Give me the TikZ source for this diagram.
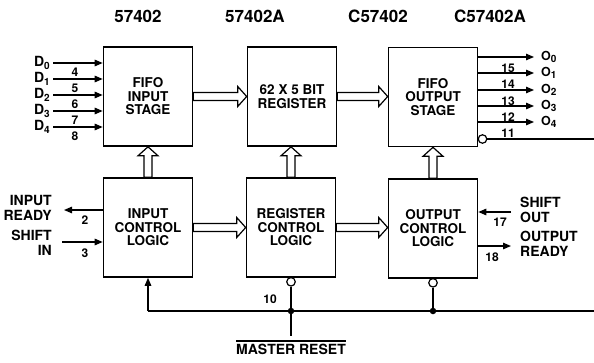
\documentclass[tikz,border=0pt]{standalone}
\usepackage{fontspec}
\setmainfont{TeX Gyre Heros}
\usetikzlibrary{arrows.meta,calc}
\newcommand\pinsub[1]{\raisebox{-0.4ex}{\fontsize{10}{10}\selectfont #1}}
\begin{document}
\begin{tikzpicture}[x=1pt,y=-1pt,
  blk/.style={draw, line width=1.6pt, minimum width=89pt, minimum height=99pt, align=center, inner sep=0pt,
    font=\fontsize{13.5}{13.5}\selectfont\bfseries},
  hollow/.style={fill=white, draw, line width=1.2pt, line join=miter,
    to path={
      ($(\tikztostart)!4pt!90:(\tikztotarget)$) --
      ($($(\tikztotarget)!9pt!(\tikztostart)$)!4pt!-90:(\tikztostart)$) --
      ($($(\tikztotarget)!9pt!(\tikztostart)$)!10pt!-90:(\tikztostart)$) --
      (\tikztotarget) --
      ($($(\tikztotarget)!9pt!(\tikztostart)$)!10pt!90:(\tikztostart)$) --
      ($($(\tikztotarget)!9pt!(\tikztostart)$)!4pt!90:(\tikztostart)$) --
      ($(\tikztostart)!4pt!-90:(\tikztotarget)$) -- cycle}},
  pin/.style={line width=1.3pt, -{Triangle[length=8pt,width=6.5pt]}},
  wire/.style={line width=1.3pt},
  lbl/.style={font=\fontsize{14}{14.5}\selectfont\bfseries, inner sep=0pt},
  num/.style={font=\fontsize{12}{12}\selectfont\bfseries, inner sep=0pt},
  title/.style={font=\fontsize{17}{17}\selectfont\bfseries, inner sep=0pt},
  bubble/.style={circle, draw, fill=white, line width=1.2pt, minimum size=8.5pt, inner sep=0pt},
  dot/.style={circle, fill, minimum size=6.5pt, inner sep=0pt}]
\useasboundingbox (0,0) rectangle (594,362);

% titles
\node[title] (t1) at (138,16) {57402};
\node[title] (t2) at (255,16) {57402A};
\node[title] (t3) at (378,16) {C57402};
\node[title] (t4) at (490,16) {C57402A};

% blocks
\node[blk] (inS) at (148,96.5) {FIFO\\INPUT\\STAGE};
\node[blk] (reg) at (292,96.5) {62 X 5 BIT\\REGISTER};
\node[blk] (outS) at (433,97) {FIFO\\OUTPUT\\STAGE};
\node[blk] (inC) at (148,227.5) {INPUT\\CONTROL\\LOGIC};
\node[blk] (regC) at (291,227.5) {REGISTER\\CONTROL\\LOGIC};
\node[blk] (outC) at (433,228.5) {OUTPUT\\CONTROL\\LOGIC};

% hollow data-path arrows
\draw[hollow] (inS.east) to (reg.west);
\draw[hollow] (reg.east) to (outS.west |- reg.east);
\draw[hollow] (inC.north) to (inS.south);
\draw[hollow] (regC.north) to (reg.south -| regC.north);
\draw[hollow] (outC.north) to (outS.south);
\draw[hollow] (inC.east) to (regC.west);
\draw[hollow] (regC.east) to (outC.west |- regC.east);

% data inputs
\foreach \i/\y/\p in {0/63/4, 1/79/5, 2/95/6, 3/111/7, 4/127/8} {
  \coordinate (d\i) at (53,\y);
  \draw[pin] (d\i) -- (d\i -| inS.west);
  \node[lbl, anchor=east] (dl\i) at (50,\y) {D\pinsub{\i}};
  \node[num] (dp\i) at (75,\y+9) {\p};
}

% data outputs
\foreach \i/\y/\p in {0/57/15, 1/73/14, 2/90/13, 3/106/12, 4/122/11} {
  \coordinate (o\i) at (534,\y);
  \draw[pin] (o\i -| outS.east) -- (o\i);
  \node[lbl, anchor=west, font=\fontsize{12.5}{13}\selectfont\bfseries] (ol\i) at (541,\y) {O\pinsub{\i}};
  \node[num] (op\i) at (508,\y+11) {\p};
}

% pin 11 with bubble
\node[bubble] (b11) at (482.5,139) {};
\coordinate (e11) at (594,139);
\draw[wire] (b11) -- (e11);

% input control pins
\coordinate (ir) at (64,210);
\draw[pin] (ir -| inC.west) -- (ir);
\node[lbl, anchor=east, align=right] (irl) at (52,208) {INPUT\\READY};
\node[num] (p2) at (85,220) {2};
\coordinate (si) at (62,242);
\draw[pin] (si) -- (si -| inC.west);
\node[lbl, anchor=east, align=right] (sil) at (52,243) {SHIFT\\IN};
\node[num] (p3) at (85,253) {3};

% output control pins
\coordinate (so) at (511,212);
\draw[pin] (so) -- (so -| outC.east);
\node[lbl, anchor=west, align=left] (sol) at (520,210) {SHIFT\\OUT};
\node[num] (p17) at (500,222) {17};
\coordinate (orr) at (511,246);
\draw[pin] (orr -| outC.east) -- (orr);
\node[lbl, anchor=west, align=left] (orl) at (520,244) {OUTPUT\\READY};
\node[num] (p18) at (492,257) {18};

% reset network
\node[bubble] (brc) at (regC.south) [yshift=-4pt] {};
\node[bubble] (boc) at (outC.south) [yshift=-4pt] {};
\coordinate (j1) at (brc |- 0,311);
\coordinate (j2) at (boc |- 0,311);
\coordinate (re) at (594,311);
\coordinate (rl) at (inC.south |- 0,311);
\draw[wire] (re) -- (j2) -- (j1) -- (rl);
\draw[pin] (rl) -- (inC.south);
\draw[wire] (brc) -- (j1);
\draw[wire] (boc) -- (j2);
\node[dot] (dj1) at (j1) {};
\node[dot] (dj2) at (j2) {};
\coordinate (mrc) at (j1 |- 0,336);
\draw[wire] (j1) -- (mrc);
\node[num] (p10) at (270,299) {10};
\node[lbl, anchor=north, inner ysep=3pt] (mr) at (291,341) {MASTER RESET};
\draw[line width=1.1pt] (mr.north west) -- (mr.north east);
\end{tikzpicture}
\end{document}
